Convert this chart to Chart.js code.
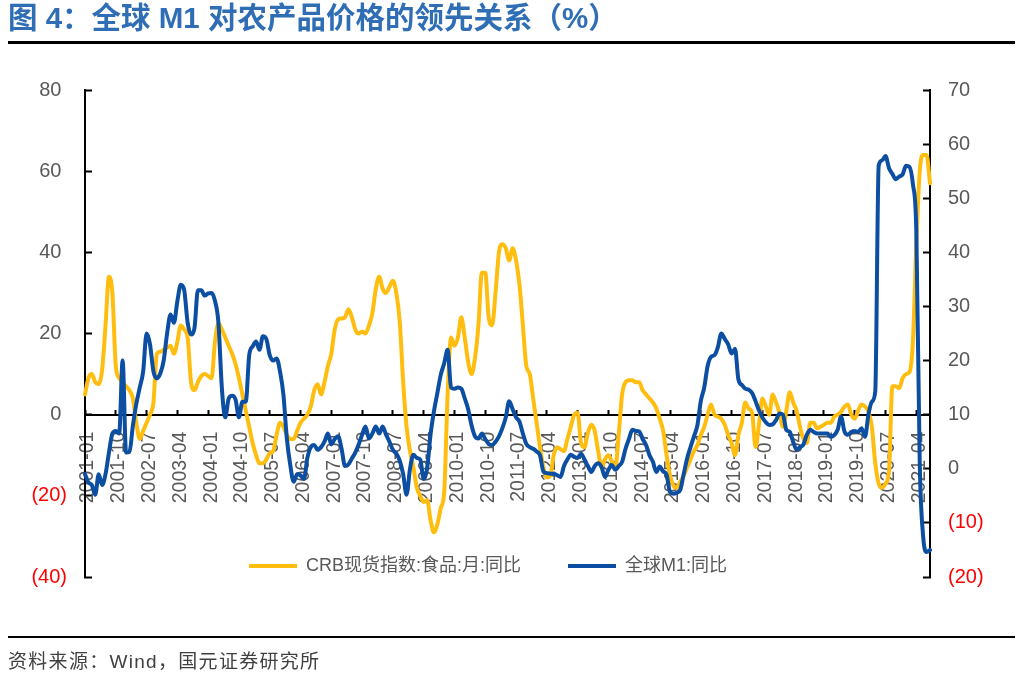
<!DOCTYPE html>
<html><head><meta charset="utf-8">
<script src="https://cdn.jsdelivr.net/npm/chart.js@4.4.1/dist/chart.umd.min.js"></script>
<style>
html,body{margin:0;padding:0;width:1025px;height:675px;overflow:hidden;background:#fff;}
#chart{position:absolute;left:0;top:0;}
#title{position:absolute;left:8px;top:0;font-family:"Liberation Sans","Noto Sans CJK SC",sans-serif;font-weight:bold;font-size:29.5px;color:#2F6EB5;white-space:nowrap;line-height:36px;}
#tline{position:absolute;left:8px;top:41px;width:1007px;height:3px;background:#000;}
#bline{position:absolute;left:8px;top:636px;width:1007px;height:2px;background:#000;}
#src{position:absolute;left:8px;top:650px;font-family:"Liberation Sans","Noto Sans CJK SC",sans-serif;font-size:19px;letter-spacing:1.3px;color:#404040;white-space:nowrap;line-height:24px;}
</style></head><body>
<canvas id="chart" width="1025" height="652"></canvas>
<div id="title">图 4：全球 M1 对农产品价格的领先关系（%）</div>
<div id="tline"></div>
<div id="bline"></div>
<div id="src">资料来源：Wind，国元证券研究所</div>
<script>
// Monthly categories 2001-01 .. 2021-08
const months = [];
for (let y = 2001; y <= 2021; y++) {
  for (let m = 1; m <= 12; m++) {
    if (y === 2021 && m > 8) break;
    months.push(y + '-' + String(m).padStart(2, '0'));
  }
}

// Tick labels shown on the category axis
const tickLabels = ['2001-01','2001-10','2002-07','2003-04','2004-01','2004-10','2005-07','2006-04',
  '2007-01','2007-10','2008-07','2009-04','2010-01','2010-10','2011-07','2012-04','2013-01','2013-10',
  '2014-07','2015-04','2016-01','2016-10','2017-07','2018-04','2019-01','2019-10','2020-07','2021-04'];

// CRB spot index: food, YoY (%), left axis
const crbFood = [
  5, 9, 10, 8, 7.5, 11, 22, 34, 30, 12, 9, 8,
  7, 6, 4, -2, -6, -4, -2, 0, 3, 15, 15.5, 16,
  16.5, 17, 15, 18, 22, 21, 19, 8, 6, 8, 9.5, 10,
  9.5, 9, 18, 22.5, 21, 19, 17, 15, 12.5, 9, 5, 1,
  -3, -7, -10, -12, -12, -11, -9.5, -9, -5, -2, -3, -5,
  -6, -6, -4, -2, -1, 0, 2, 6, 7.5, 5, 8, 12,
  15, 21, 23.5, 23.7, 24, 26, 24, 21, 20, 20.5, 20, 22,
  25, 31, 34, 31, 30, 31.5, 33, 30, 23, 8, -3, -9,
  -13, -18, -20, -21.5, -21, -26, -29, -27, -23, -19, 5, 19,
  17, 19, 24, 19, 13, 10, 14, 22, 35, 35, 24, 22,
  30, 40, 42, 41, 38, 41, 38, 32, 22, 12, 10, 4,
  -2, -8, -13, -15.5, -15, -10, -8, -8.5, -9, -6, -3, 0,
  0.5, -7, -8, -4.5, -2.5, -4, -9, -13, -11, -10, -11.5, -13,
  -5, 5, 8, 8.5, 8.5, 8, 8, 6, 5, 4, 3, 1.5,
  -1, -4, -10, -15, -17.5, -18, -16.5, -15, -13, -11, -9, -7.5,
  -5, -3, 0, 2.5, 0, -0.5, -1, -2.5, -5, -7, -10, -5,
  -2, 3, 1.5, 0.5, -8, -2.5, 4, 2, 0, 5, 3, 0.5,
  -3, 1, 5.5, 3, 1, -3, -6, -7, -2, -2, -3.4, -3,
  -2.5, -2, -2, -0.5, 0, 0.7, 2, 2.5, 0, -1, 1, 2.5,
  2, 0.7, -3, -12, -17, -18, -17, -14, 7, 7, 6.5, 9,
  10, 10.5, 18, 42, 60, 64, 64, 57
];

// Global M1, YoY (%), right axis
const globalM1 = [
  -1, -2.5, -3, -4.8, -1, -3, -1, 3, 6.5, 7, 6.5, 20,
  3, 3.1, 8, 12, 15, 18, 25, 23, 18, 16.7, 17.6, 20,
  25, 28.5, 27, 31, 34, 33, 27, 24.8, 26, 33, 33, 32,
  32.4, 32.5, 31, 27, 15, 9.5, 13, 13.5, 12.8, 9.5, 12.4, 12.4,
  21, 22.6, 23.5, 22, 24.5, 24, 21, 20, 20.4, 18, 13.7, 5.6,
  0.7, -2.4, -1, -1.2, -1.9, 2, 4, 4.4, 3.5, 4, 5, 6.5,
  4.5, 5.5, 6, 3.7, 0.5, 0.8, 1.9, 3, 4.5, 6.3, 7.8, 5.6,
  6.5, 7.8, 6.5, 7.8, 6.3, 5, 3.5, 2.8, 1.5, -1, -4.8, 0,
  2.6, 2, 1.7, -1.9, 0, 6.3, 10.6, 14, 17.4, 19.5, 22, 15,
  14.8, 15, 14.8, 13, 11, 8, 6, 5.6, 6.5, 5.5, 4.6, 4.4,
  5, 6, 7.5, 9.5, 12.5, 11, 9.5, 8.7, 6.5, 4.6, 4, 3.7,
  3.2, 2.5, -0.5, -0.8, -0.9, -0.9, -1.2, -1.5, 0.5, 1.7, 2.6, 2.2,
  2, 2.8, 1.7, 0.5, -0.6, 0.5, 1, 0.3, -1.5, -0.2, 0.7, -0.2,
  0.5, 1.3, 3.7, 5.5, 7.2, 7, 6.9, 5.5, 4.4, 2.5, 1.3, -0.6,
  0.4, -0.5, -1.1, -4.3, -4.6, -4.4, -3.9, -1, 1.9, 4, 6, 8,
  12.5, 15, 19, 20.7, 21, 22.5, 25, 24, 23, 21.3, 22.2, 16.5,
  15.5, 14.8, 14.6, 14, 12.5, 10.8, 9.5, 8.6, 8.1, 8.2, 9, 10.2,
  10, 7.2, 6.8, 5, 3.5, 4, 4.5, 6.3, 7.2, 6.8, 6.5, 6.5,
  6.5, 6.5, 5.9, 6.2, 7.2, 9.6, 6.9, 6.3, 6.8, 7, 6.8, 7.5,
  5.9, 10, 12.4, 14.3, 56, 57, 57.8, 55.6, 54.5, 53.5, 54, 54.4,
  56, 55.8, 52.6, 44, 1, -12.5, -15.4, -15
];

const seriesNames = ['CRB现货指数:食品:月:同比', '全球M1:同比'];

const FONT = "'Liberation Sans', 'Noto Sans CJK SC', sans-serif";
const YELLOW = '#FFBE0F';
const BLUE = '#0B4EA2';
const GRAY = '#595959';
const RED = '#FF0000';
const LEGEND_X = 249;   // start of first legend line
const LEGEND_CY = 566;  // vertical centre of legend row

const fmtTick = v => (v < 0 ? '(' + Math.abs(v) + ')' : v + '\u2008');
const tickCol = c => (c.tick && c.tick.value < 0 ? RED : GRAY);

const legendPlacer = {
  id: 'legendPlacer',
  afterLayout(chart) {
    const lg = chart.legend;
    if (!lg) return;
    const P = lg.options.labels.padding;
    const fs = lg.options.labels.font.size || 18;
    const h = lg.height;
    lg.top = LEGEND_CY - P - fs / 2;
    lg.bottom = lg.top + h + P;
    lg.left = LEGEND_X - P;
    lg.right = chart.width;
  }
};

new Chart(document.getElementById('chart'), {
  type: 'line',
  data: {
    labels: months,
    datasets: [
      { label: seriesNames[0], data: crbFood, yAxisID: 'y', borderColor: YELLOW, backgroundColor: YELLOW,
        borderWidth: 4, pointRadius: 0, cubicInterpolationMode: 'monotone',
        borderCapStyle: 'round', borderJoinStyle: 'round', order: 2 },
      { label: seriesNames[1], data: globalM1, yAxisID: 'y1', borderColor: BLUE, backgroundColor: BLUE,
        borderWidth: 4, pointRadius: 0, cubicInterpolationMode: 'monotone',
        borderCapStyle: 'round', borderJoinStyle: 'round', order: 1 }
    ]
  },
  options: {
    responsive: false,
    animation: false,
    devicePixelRatio: 1,
    layout: { padding: { top: 90, left: 0, right: 0, bottom: 0 } },
    plugins: {
      legend: {
        position: 'bottom', align: 'start',
        labels: {
          usePointStyle: true, pointStyle: 'line', pointStyleWidth: 48, padding: 47,
          color: GRAY, font: { size: 18, family: FONT },
          sort: (a, b) => a.datasetIndex - b.datasetIndex
        }
      },
      tooltip: { enabled: false }
    },
    scales: {
      x: {
        type: 'category',
        position: { y: 0 },
        offset: false,
        grid: {
          drawOnChartArea: false, drawTicks: true, tickLength: -6, tickWidth: 2,
          tickColor: c => (tickLabels.includes(months[c.index]) ? '#000' : 'rgba(0,0,0,0)')
        },
        border: { display: true, color: '#000', width: 2 },
        ticks: {
          autoSkip: false, maxRotation: 90, minRotation: 90, padding: 23, labelOffset: 3,
          color: GRAY, font: { size: 19.5, family: FONT },
          callback: (v, i) => (tickLabels.includes(months[i]) ? months[i] : '')
        }
      },
      y: {
        position: 'left', min: -40, max: 80,
        grid: { drawOnChartArea: false, tickLength: -7, tickWidth: 2, tickColor: '#000' },
        border: { display: true, color: '#000', width: 2 },
        ticks: { stepSize: 20, padding: 25, color: tickCol, font: { size: 20, family: FONT }, callback: fmtTick },
        afterFit: s => { s.width = 85; }
      },
      y1: {
        position: 'right', min: -20, max: 70,
        grid: { drawOnChartArea: false, tickLength: -7, tickWidth: 2, tickColor: '#000' },
        border: { display: true, color: '#000', width: 2 },
        ticks: { stepSize: 10, padding: 25, color: tickCol, font: { size: 20, family: FONT }, callback: fmtTick },
        afterFit: s => { s.width = 95; }
      }
    }
  },
  plugins: [legendPlacer]
});
</script>
</body></html>
